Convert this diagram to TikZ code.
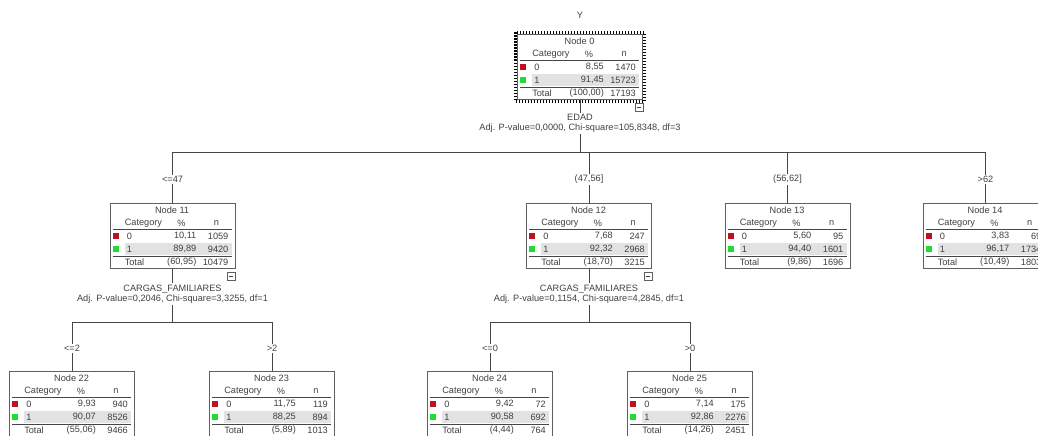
\documentclass[tikz,border=0pt]{standalone}
\usepackage{fontspec}
\setmainfont{Liberation Sans}
\usepackage{tikz}
\definecolor{linegray}{RGB}{70,70,70}
\definecolor{boxgray}{RGB}{95,95,95}
\definecolor{textgray}{RGB}{65,65,65}
\definecolor{bandgray}{RGB}{226,226,226}
\definecolor{catred}{RGB}{190,15,35}
\definecolor{catgreen}{RGB}{30,220,50}

% table inside a tree node: name, title, %0, n0, %1, n1, %total, n total
\newcommand{\cattable}[8]{%
  \begin{scope}[shift={(#1.north west)}]
    \fill[bandgray] (15,40) rectangle (122,52);
    \node[txt] at (62.5,7) {#2};
    \node[txt, anchor=west] at (15,20) {Category};
    \node[txt] at (72,20) {\%};
    \node[txt] at (107,20) {n};
    \draw[rule] (3,26.5) -- (122,26.5);
    \fill[catred] (3,30) rectangle (9,36);
    \fill[catgreen] (3,43) rectangle (9,49);
    \node[txt, anchor=west] at (17,33) {0};
    \node[txt, anchor=west] at (17,46) {1};
    \node[txt, anchor=east] at (87,33) {#3};
    \node[txt, anchor=east] at (119,33) {#4};
    \node[txt, anchor=east] at (87,46) {#5};
    \node[txt, anchor=east] at (119,46) {#6};
    \draw[rule] (3,53.5) -- (122,53.5);
    \node[txt, anchor=west] at (15,59) {Total};
    \node[txt, anchor=east] at (87,59) {#7};
    \node[txt, anchor=east] at (119,59) {#8};
  \end{scope}}

\newcommand{\collapsebox}[1]{%
  \draw[boxgray, line width=0.7pt, fill=white]
    ([shift={(-8pt,-3pt)}]#1.south east) rectangle ([shift={(0pt,-11pt)}]#1.south east);
  \draw[textgray, line width=0.7pt]
    ([shift={(-6pt,-7pt)}]#1.south east) -- ([shift={(-2pt,-7pt)}]#1.south east);}

\begin{document}
\begin{tikzpicture}[x=1pt, y=-1pt,
    txt/.style={font=\fontsize{9.2}{10.5}\selectfont, text=textgray, inner sep=0pt},
    catbox/.style={draw=boxgray, line width=0.9pt, minimum width=125pt,
                   minimum height=65pt, inner sep=0pt, anchor=north},
    rule/.style={draw=linegray, line width=1.1pt},
    link/.style={draw=linegray, line width=0.9pt},
    branch/.style={txt, fill=white, inner sep=1.5pt, pos=0.77},
    splitlbl/.style={txt, align=center, inner sep=1pt}
]
    \useasboundingbox (0,0) rectangle (1038,436);
    \fill[white] (0,0) rectangle (1038,436);
    \clip (0,0) rectangle (1038,436);

    % Root
    \node[txt] (ttl) at (580,15) {Y};
    \node[catbox] (n0) at (580,34) {};
    \cattable{n0}{Node 0}{8,55}{1470}{91,45}{15723}{(100,00)}{17193}
    \draw[black, line width=2.4pt, dash pattern=on 1.5pt off 1.5pt]
        ([shift={(-1.5pt,1.5pt)}]n0.north west) rectangle ([shift={(1.5pt,-1.5pt)}]n0.south east);
    \collapsebox{n0}
    \node[splitlbl] (v0) at (580,123.5)
        {EDAD\\Adj. P-value=0,0000, Chi-square=105,8348, df=3};
    \coordinate (s0) at (580,152);

    % First split
    \node[catbox] (n11) at (172.5,203) {};
    \cattable{n11}{Node 11}{10,11}{1059}{89,89}{9420}{(60,95)}{10479}
    \collapsebox{n11}
    \node[catbox] (n12) at (589,203) {};
    \cattable{n12}{Node 12}{7,68}{247}{92,32}{2968}{(18,70)}{3215}
    \collapsebox{n12}
    \node[catbox] (n13) at (787.5,203) {};
    \cattable{n13}{Node 13}{5,60}{95}{94,40}{1601}{(9,86)}{1696}
    \node[catbox] (n14) at (985.5,203) {};
    \cattable{n14}{Node 14}{3,83}{69}{96,17}{1734}{(10,49)}{1803}

    \draw[link] (n0.south) -- (v0.north);
    \draw[link] (v0.south) -- (s0);
    \draw[link] (s0) -| node[branch] {<=47} (n11.north);
    \draw[link] (s0) -| node[branch] {(47,56]} (n12.north);
    \draw[link] (s0) -| node[branch] {(56,62]} (n13.north);
    \draw[link] (s0) -| node[branch] {>62} (n14.north);

    % Second split
    \node[splitlbl] (v11) at (172.5,294)
        {CARGAS\_FAMILIARES\\Adj. P-value=0,2046, Chi-square=3,3255, df=1};
    \coordinate (s11) at (172.5,322);
    \node[splitlbl] (v12) at (589,294)
        {CARGAS\_FAMILIARES\\Adj. P-value=0,1154, Chi-square=4,2845, df=1};
    \coordinate (s12) at (589,322);

    \node[catbox] (n22) at (72,371) {};
    \cattable{n22}{Node 22}{9,93}{940}{90,07}{8526}{(55,06)}{9466}
    \node[catbox] (n23) at (272,371) {};
    \cattable{n23}{Node 23}{11,75}{119}{88,25}{894}{(5,89)}{1013}
    \node[catbox] (n24) at (490,371) {};
    \cattable{n24}{Node 24}{9,42}{72}{90,58}{692}{(4,44)}{764}
    \node[catbox] (n25) at (690,371) {};
    \cattable{n25}{Node 25}{7,14}{175}{92,86}{2276}{(14,26)}{2451}

    \draw[link] (n11.south) -- (v11.north);
    \draw[link] (v11.south) -- (s11);
    \draw[link] (s11) -| node[branch] {<=2} (n22.north);
    \draw[link] (s11) -| node[branch] {>2} (n23.north);
    \draw[link] (n12.south) -- (v12.north);
    \draw[link] (v12.south) -- (s12);
    \draw[link] (s12) -| node[branch] {<=0} (n24.north);
    \draw[link] (s12) -| node[branch] {>0} (n25.north);
\end{tikzpicture}
\end{document}
